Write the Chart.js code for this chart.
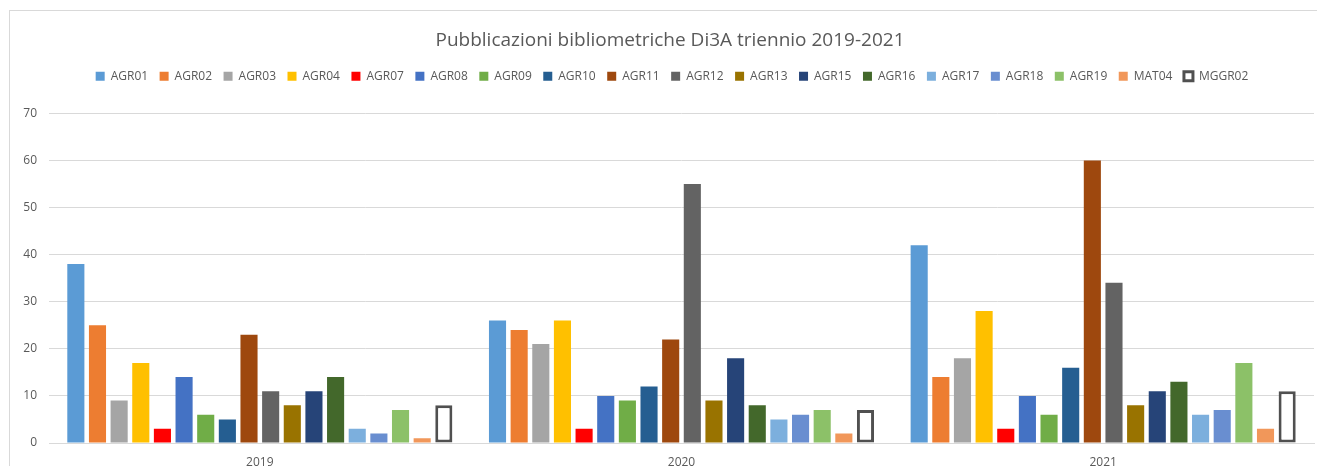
<!DOCTYPE html>
<html>
<head>
<meta charset="utf-8">
<script src="https://cdn.jsdelivr.net/npm/chart.js@4.4.1/dist/chart.umd.min.js"></script>
<style>
  html, body { margin: 0; padding: 0; background: #fff; overflow: hidden; }
  #wrap {
    position: absolute; left: 9px; top: 10px; width: 1308px; height: 456px;
    border-left: 1px solid #d9d9d9; border-top: 1px solid #d9d9d9; background: #fff;
  }
  #wrap canvas { display: block; }
</style>
</head>
<body>
<div id="wrap"><canvas id="chart" width="1307" height="455"></canvas></div>
<script>
// Anni (categorie)
const years = ['2019', '2020', '2021'];

// Settori scientifico-disciplinari
const sectors = ['AGR01', 'AGR02', 'AGR03', 'AGR04', 'AGR07', 'AGR08', 'AGR09', 'AGR10', 'AGR11',
  'AGR12', 'AGR13', 'AGR15', 'AGR16', 'AGR17', 'AGR18', 'AGR19', 'MAT04', 'MGGR02'];

// Pubblicazioni per anno, nello stesso ordine dei settori
const pubs2019 = [38, 25, 9, 17, 3, 14, 6, 5, 23, 11, 8, 11, 14, 3, 2, 7, 1, 8];
const pubs2020 = [26, 24, 21, 26, 3, 10, 9, 12, 22, 55, 9, 18, 8, 5, 6, 7, 2, 7];
const pubs2021 = [42, 14, 18, 28, 3, 10, 6, 16, 60, 34, 8, 11, 13, 6, 7, 17, 3, 11];

// Colori in stile Office
const colors = ['#5B9BD5', '#ED7D31', '#A5A5A5', '#FFC000', '#FF0000', '#4472C4', '#70AD47', '#255E91',
  '#9E480E', '#636363', '#997300', '#264478', '#43682B', '#7CAFDD', '#698ED0', '#8CC168', '#F1975A', '#FFFFFF'];

const yTicks = [0, 10, 20, 30, 40, 50, 60, 70];

const datasets = sectors.map((name, i) => {
  const isOutline = name === 'MGGR02';
  return {
    label: name,
    data: [pubs2019[i], pubs2020[i], pubs2021[i]],
    backgroundColor: colors[i],
    borderColor: isOutline ? '#505050' : colors[i],
    borderWidth: isOutline ? 3 : 0,
    borderSkipped: false,
    categoryPercentage: 0.924,
    barPercentage: 0.79
  };
});

const textColor = '#595959';
const fontFamily = "'Open Sans', 'Liberation Sans', sans-serif";

// spazio extra sotto la legenda + piccolo spostamento orizzontale di titolo e legenda
const headerTweaks = {
  id: 'headerTweaks',
  beforeInit(chart) {
    const fit = chart.legend.fit;
    chart.legend.fit = function () {
      fit.bind(chart.legend)();
      this.height += 21;
    };
  },
  afterLayout(chart) {
    chart.titleBlock.left += 8;
    chart.titleBlock.right += 8;
    chart.legend.left += 10;
    chart.legend.right += 10;
  }
};

new Chart(document.getElementById('chart'), {
  type: 'bar',
  data: { labels: years, datasets },
  plugins: [headerTweaks],
  options: {
    responsive: false,
    animation: false,
    layout: { padding: { left: 0, right: 3, top: 0, bottom: 0 } },
    plugins: {
      title: {
        display: true,
        text: 'Pubblicazioni bibliometriche Di3A triennio 2019-2021',
        color: textColor,
        font: { family: fontFamily, size: 19, weight: 'normal' },
        padding: { top: 18, bottom: 7 }
      },
      legend: {
        position: 'top',
        labels: {
          color: textColor,
          font: { family: fontFamily, size: 12 },
          boxWidth: 9,
          boxHeight: 9,
          padding: 11.5
        }
      },
      tooltip: { enabled: false }
    },
    scales: {
      x: {
        grid: { display: false, drawTicks: false },
        border: { color: '#d9d9d9' },
        ticks: { color: textColor, font: { family: fontFamily, size: 12 }, padding: 12 },
        afterFit: s => { s.height = 23; }
      },
      y: {
        min: 0,
        max: 70,
        afterBuildTicks: s => { s.ticks = yTicks.map(v => ({ value: v })); },
        grid: { color: '#d9d9d9', drawTicks: false },
        border: { display: false },
        ticks: { color: textColor, font: { family: fontFamily, size: 12 }, padding: 12 },
        afterFit: s => { s.width = 39; }
      }
    }
  }
});
</script>
</body>
</html>
